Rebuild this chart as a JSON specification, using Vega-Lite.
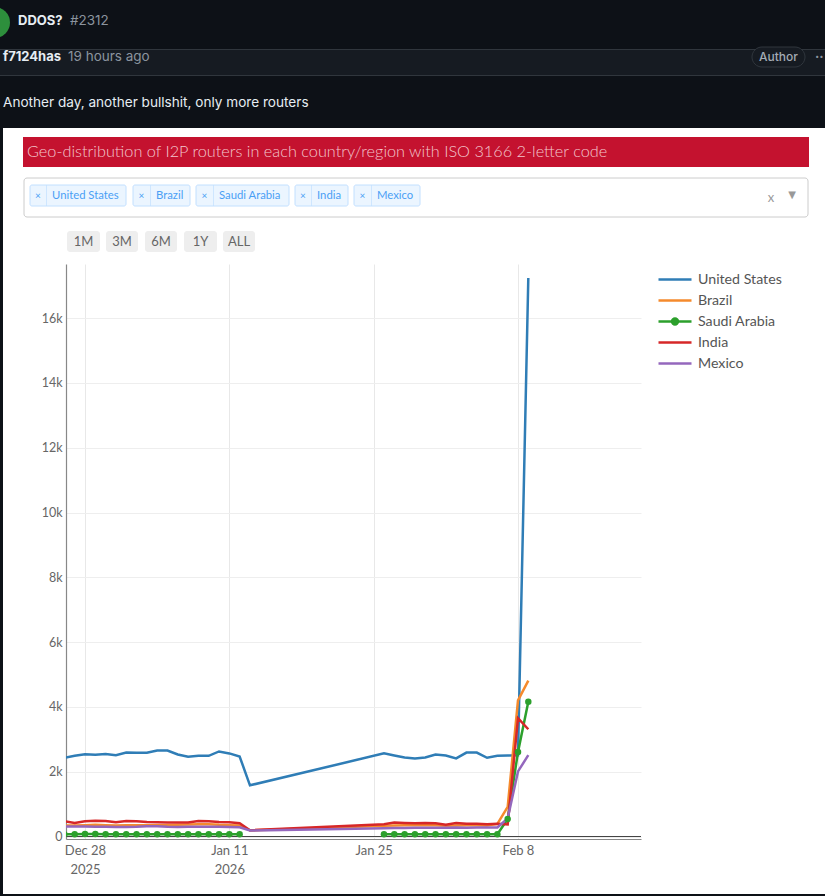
{"$schema":"https://vega.github.io/schema/vega-lite/v6.json","width":575,"height":575,"autosize":"none","padding":{"left":66,"top":264,"right":184,"bottom":57},"background":"#ffffff","view":{"stroke":null},"config":{"font":"Lato"},
"datasets":{
"routers":[
{"date":"2025-12-26","country":"United States","routers":2430},{"date":"2025-12-27","country":"United States","routers":2490},{"date":"2025-12-28","country":"United States","routers":2540},{"date":"2025-12-29","country":"United States","routers":2520},{"date":"2025-12-30","country":"United States","routers":2550},{"date":"2025-12-31","country":"United States","routers":2510},{"date":"2026-01-01","country":"United States","routers":2590},{"date":"2026-01-02","country":"United States","routers":2585},{"date":"2026-01-03","country":"United States","routers":2585},{"date":"2026-01-04","country":"United States","routers":2655},{"date":"2026-01-05","country":"United States","routers":2655},{"date":"2026-01-06","country":"United States","routers":2530},{"date":"2026-01-07","country":"United States","routers":2460},{"date":"2026-01-08","country":"United States","routers":2490},{"date":"2026-01-09","country":"United States","routers":2490},{"date":"2026-01-10","country":"United States","routers":2625},{"date":"2026-01-11","country":"United States","routers":2565},{"date":"2026-01-12","country":"United States","routers":2470},{"date":"2026-01-13","country":"United States","routers":1580},{"date":"2026-01-26","country":"United States","routers":2565},{"date":"2026-01-27","country":"United States","routers":2500},{"date":"2026-01-28","country":"United States","routers":2440},{"date":"2026-01-29","country":"United States","routers":2410},{"date":"2026-01-30","country":"United States","routers":2440},{"date":"2026-01-31","country":"United States","routers":2530},{"date":"2026-02-01","country":"United States","routers":2500},{"date":"2026-02-02","country":"United States","routers":2410},{"date":"2026-02-03","country":"United States","routers":2590},{"date":"2026-02-04","country":"United States","routers":2590},{"date":"2026-02-05","country":"United States","routers":2430},{"date":"2026-02-06","country":"United States","routers":2490},{"date":"2026-02-07","country":"United States","routers":2500},{"date":"2026-02-08","country":"United States","routers":2510},{"date":"2026-02-09","country":"United States","routers":17240},
{"date":"2025-12-26","country":"Brazil","routers":340},{"date":"2025-12-27","country":"Brazil","routers":340},{"date":"2025-12-28","country":"Brazil","routers":350},{"date":"2025-12-29","country":"Brazil","routers":365},{"date":"2025-12-30","country":"Brazil","routers":350},{"date":"2025-12-31","country":"Brazil","routers":340},{"date":"2026-01-01","country":"Brazil","routers":345},{"date":"2026-01-02","country":"Brazil","routers":350},{"date":"2026-01-03","country":"Brazil","routers":345},{"date":"2026-01-04","country":"Brazil","routers":345},{"date":"2026-01-05","country":"Brazil","routers":350},{"date":"2026-01-06","country":"Brazil","routers":360},{"date":"2026-01-07","country":"Brazil","routers":370},{"date":"2026-01-08","country":"Brazil","routers":375},{"date":"2026-01-09","country":"Brazil","routers":380},{"date":"2026-01-10","country":"Brazil","routers":360},{"date":"2026-01-11","country":"Brazil","routers":350},{"date":"2026-01-12","country":"Brazil","routers":340},{"date":"2026-01-13","country":"Brazil","routers":190},{"date":"2026-01-26","country":"Brazil","routers":330},{"date":"2026-01-27","country":"Brazil","routers":340},{"date":"2026-01-28","country":"Brazil","routers":345},{"date":"2026-01-29","country":"Brazil","routers":350},{"date":"2026-01-30","country":"Brazil","routers":345},{"date":"2026-01-31","country":"Brazil","routers":345},{"date":"2026-02-01","country":"Brazil","routers":335},{"date":"2026-02-02","country":"Brazil","routers":340},{"date":"2026-02-03","country":"Brazil","routers":345},{"date":"2026-02-04","country":"Brazil","routers":345},{"date":"2026-02-05","country":"Brazil","routers":340},{"date":"2026-02-06","country":"Brazil","routers":390},{"date":"2026-02-07","country":"Brazil","routers":915},{"date":"2026-02-08","country":"Brazil","routers":4200},{"date":"2026-02-09","country":"Brazil","routers":4810},
{"date":"2025-12-26","country":"Saudi Arabia","routers":70},{"date":"2025-12-27","country":"Saudi Arabia","routers":72},{"date":"2025-12-28","country":"Saudi Arabia","routers":75},{"date":"2025-12-29","country":"Saudi Arabia","routers":74},{"date":"2025-12-30","country":"Saudi Arabia","routers":72},{"date":"2025-12-31","country":"Saudi Arabia","routers":70},{"date":"2026-01-01","country":"Saudi Arabia","routers":72},{"date":"2026-01-02","country":"Saudi Arabia","routers":73},{"date":"2026-01-03","country":"Saudi Arabia","routers":72},{"date":"2026-01-04","country":"Saudi Arabia","routers":71},{"date":"2026-01-05","country":"Saudi Arabia","routers":72},{"date":"2026-01-06","country":"Saudi Arabia","routers":72},{"date":"2026-01-07","country":"Saudi Arabia","routers":71},{"date":"2026-01-08","country":"Saudi Arabia","routers":70},{"date":"2026-01-09","country":"Saudi Arabia","routers":70},{"date":"2026-01-10","country":"Saudi Arabia","routers":72},{"date":"2026-01-11","country":"Saudi Arabia","routers":71},{"date":"2026-01-12","country":"Saudi Arabia","routers":70},{"date":"2026-01-13","country":"Saudi Arabia","routers":null},{"date":"2026-01-26","country":"Saudi Arabia","routers":70},{"date":"2026-01-27","country":"Saudi Arabia","routers":72},{"date":"2026-01-28","country":"Saudi Arabia","routers":72},{"date":"2026-01-29","country":"Saudi Arabia","routers":71},{"date":"2026-01-30","country":"Saudi Arabia","routers":70},{"date":"2026-01-31","country":"Saudi Arabia","routers":72},{"date":"2026-02-01","country":"Saudi Arabia","routers":71},{"date":"2026-02-02","country":"Saudi Arabia","routers":70},{"date":"2026-02-03","country":"Saudi Arabia","routers":71},{"date":"2026-02-04","country":"Saudi Arabia","routers":70},{"date":"2026-02-05","country":"Saudi Arabia","routers":72},{"date":"2026-02-06","country":"Saudi Arabia","routers":72},{"date":"2026-02-07","country":"Saudi Arabia","routers":540},{"date":"2026-02-08","country":"Saudi Arabia","routers":2610},{"date":"2026-02-09","country":"Saudi Arabia","routers":4160},
{"date":"2025-12-26","country":"India","routers":470},{"date":"2025-12-27","country":"India","routers":420},{"date":"2025-12-28","country":"India","routers":470},{"date":"2025-12-29","country":"India","routers":490},{"date":"2025-12-30","country":"India","routers":480},{"date":"2025-12-31","country":"India","routers":440},{"date":"2026-01-01","country":"India","routers":480},{"date":"2026-01-02","country":"India","routers":470},{"date":"2026-01-03","country":"India","routers":450},{"date":"2026-01-04","country":"India","routers":440},{"date":"2026-01-05","country":"India","routers":430},{"date":"2026-01-06","country":"India","routers":430},{"date":"2026-01-07","country":"India","routers":430},{"date":"2026-01-08","country":"India","routers":480},{"date":"2026-01-09","country":"India","routers":470},{"date":"2026-01-10","country":"India","routers":450},{"date":"2026-01-11","country":"India","routers":440},{"date":"2026-01-12","country":"India","routers":410},{"date":"2026-01-13","country":"India","routers":195},{"date":"2026-01-26","country":"India","routers":380},{"date":"2026-01-27","country":"India","routers":430},{"date":"2026-01-28","country":"India","routers":420},{"date":"2026-01-29","country":"India","routers":410},{"date":"2026-01-30","country":"India","routers":420},{"date":"2026-01-31","country":"India","routers":410},{"date":"2026-02-01","country":"India","routers":360},{"date":"2026-02-02","country":"India","routers":420},{"date":"2026-02-03","country":"India","routers":390},{"date":"2026-02-04","country":"India","routers":390},{"date":"2026-02-05","country":"India","routers":380},{"date":"2026-02-06","country":"India","routers":390},{"date":"2026-02-07","country":"India","routers":370},{"date":"2026-02-08","country":"India","routers":3650},{"date":"2026-02-09","country":"India","routers":3310},
{"date":"2025-12-26","country":"Mexico","routers":310},{"date":"2025-12-27","country":"Mexico","routers":305},{"date":"2025-12-28","country":"Mexico","routers":305},{"date":"2025-12-29","country":"Mexico","routers":300},{"date":"2025-12-30","country":"Mexico","routers":300},{"date":"2025-12-31","country":"Mexico","routers":295},{"date":"2026-01-01","country":"Mexico","routers":295},{"date":"2026-01-02","country":"Mexico","routers":300},{"date":"2026-01-03","country":"Mexico","routers":315},{"date":"2026-01-04","country":"Mexico","routers":315},{"date":"2026-01-05","country":"Mexico","routers":300},{"date":"2026-01-06","country":"Mexico","routers":295},{"date":"2026-01-07","country":"Mexico","routers":300},{"date":"2026-01-08","country":"Mexico","routers":300},{"date":"2026-01-09","country":"Mexico","routers":300},{"date":"2026-01-10","country":"Mexico","routers":300},{"date":"2026-01-11","country":"Mexico","routers":295},{"date":"2026-01-12","country":"Mexico","routers":285},{"date":"2026-01-13","country":"Mexico","routers":185},{"date":"2026-01-26","country":"Mexico","routers":255},{"date":"2026-01-27","country":"Mexico","routers":265},{"date":"2026-01-28","country":"Mexico","routers":265},{"date":"2026-01-29","country":"Mexico","routers":270},{"date":"2026-01-30","country":"Mexico","routers":270},{"date":"2026-01-31","country":"Mexico","routers":270},{"date":"2026-02-01","country":"Mexico","routers":270},{"date":"2026-02-02","country":"Mexico","routers":275},{"date":"2026-02-03","country":"Mexico","routers":270},{"date":"2026-02-04","country":"Mexico","routers":275},{"date":"2026-02-05","country":"Mexico","routers":275},{"date":"2026-02-06","country":"Mexico","routers":280},{"date":"2026-02-07","country":"Mexico","routers":560},{"date":"2026-02-08","country":"Mexico","routers":2010},{"date":"2026-02-09","country":"Mexico","routers":2510}
]},
"resolve":{"scale":{"x":"independent","y":"independent"},"axis":{"x":"independent","y":"independent"}},
"layer":[
{"encoding":{"x":{"field":"left","type":"quantitative","axis":null,"scale":{"domain":[0,825],"range":[-66,759],"nice":false,"zero":false}},"y":{"field":"top","type":"quantitative","axis":null,"scale":{"domain":[0,896],"range":[-264,632],"nice":false,"zero":false}},"x2":{"field":"right"},"y2":{"field":"bottom"}},
"layer":[
{"data":{"values":[{"left":0,"right":825,"top":0,"bottom":128},{"left":0,"right":3,"top":128,"bottom":896},{"left":0,"right":825,"top":894,"bottom":896}]},"mark":{"type":"rect","fill":"#0d1117"}},
{"data":{"values":[{"left":0,"right":825,"top":50,"bottom":75}]},"mark":{"type":"rect","fill":"#161b22"}},
{"data":{"values":[{"left":0,"right":825,"top":49,"bottom":50},{"left":0,"right":825,"top":75,"bottom":76}]},"mark":{"type":"rect","fill":"#30363d"}},
{"data":{"values":[{"left":752,"right":805,"top":47,"bottom":67}]},"mark":{"type":"rect","fill":"#161b22","stroke":"#30363d","cornerRadius":10}},
{"data":{"values":[{"left":23,"right":809,"top":137,"bottom":167}]},"mark":{"type":"rect","fill":"#c4122f"}},
{"data":{"values":[{"left":24,"right":808,"top":178,"bottom":217}]},"mark":{"type":"rect","fill":"#ffffff","stroke":"#cccccc","cornerRadius":3}},
{"data":{"values":[{"left":30,"right":126,"top":185,"bottom":206},{"left":133,"right":190,"top":185,"bottom":206},{"left":196,"right":289,"top":185,"bottom":206},{"left":295,"right":348,"top":185,"bottom":206},{"left":354,"right":420,"top":185,"bottom":206}]},"mark":{"type":"rect","fill":"#ebf5ff","stroke":"#c2e0ff","cornerRadius":2}},
{"data":{"values":[{"left":46,"right":46.7,"top":185,"bottom":206},{"left":150,"right":150.7,"top":185,"bottom":206},{"left":213,"right":213.7,"top":185,"bottom":206},{"left":311,"right":311.7,"top":185,"bottom":206},{"left":371,"right":371.7,"top":185,"bottom":206}]},"mark":{"type":"rect","fill":"#c2e0ff"}},
{"data":{"values":[{"left":67,"right":100,"top":231,"bottom":252},{"left":106,"right":138,"top":231,"bottom":252},{"left":145,"right":177,"top":231,"bottom":252},{"left":184,"right":217,"top":231,"bottom":252},{"left":223,"right":255,"top":231,"bottom":252}]},"mark":{"type":"rect","fill":"#eeeeee","cornerRadius":3}},
{"data":{"values":[{"left":-5.5,"top":22.5}]},"mark":{"type":"point","filled":true,"fill":"#2d8f3c","opacity":1,"size":961},"encoding":{"x2":null,"y2":null}},
{"data":{"values":[{"left":18,"top":21,"label":"DDOS?"},{"left":3,"top":57,"label":"f7124has"}]},"mark":{"type":"text","font":"Inter","fontSize":13,"fontWeight":"bold","fill":"#e6edf3","align":"left","baseline":"middle"},"encoding":{"x2":null,"y2":null,"text":{"field":"label"}}},
{"data":{"values":[{"left":70,"top":21,"label":"#2312"},{"left":68,"top":57,"label":"19 hours ago"}]},"mark":{"type":"text","font":"Inter","fontSize":13.5,"fill":"#8b949e","align":"left","baseline":"middle"},"encoding":{"x2":null,"y2":null,"text":{"field":"label"}}},
{"data":{"values":[{"left":759,"top":57,"label":"Author"}]},"mark":{"type":"text","font":"Inter","fontSize":12,"fontWeight":500,"fill":"#a3acb5","align":"left","baseline":"middle"},"encoding":{"x2":null,"y2":null,"text":{"field":"label"}}},
{"data":{"values":[{"left":815,"top":57,"label":"··"}]},"mark":{"type":"text","font":"Inter","fontSize":13,"fontWeight":"bold","fill":"#8b949e","align":"left","baseline":"middle"},"encoding":{"x2":null,"y2":null,"text":{"field":"label"}}},
{"data":{"values":[{"left":3,"top":103,"label":"Another day, another bullshit, only more routers"}]},"mark":{"type":"text","font":"Inter","fontSize":13.6,"fill":"#e6edf3","align":"left","baseline":"middle"},"encoding":{"x2":null,"y2":null,"text":{"field":"label"}}},
{"data":{"values":[{"left":27,"top":152,"label":"Geo-distribution of I2P routers in each country/region with ISO 3166 2-letter code"}]},"mark":{"type":"text","font":"Lato","fontSize":16.3,"fontWeight":300,"fill":"#f3c6cd","align":"left","baseline":"middle"},"encoding":{"x2":null,"y2":null,"text":{"field":"label"}}},
{"data":{"values":[{"left":52,"top":195.5,"label":"United States"},{"left":156,"top":195.5,"label":"Brazil"},{"left":219,"top":195.5,"label":"Saudi Arabia"},{"left":317,"top":195.5,"label":"India"},{"left":377,"top":195.5,"label":"Mexico"}]},"mark":{"type":"text","font":"Lato","fontSize":11.3,"fill":"#4a9ff5","align":"left","baseline":"middle"},"encoding":{"x2":null,"y2":null,"text":{"field":"label"}}},
{"data":{"values":[{"left":38,"top":195.5,"label":"×"},{"left":141.5,"top":195.5,"label":"×"},{"left":204.5,"top":195.5,"label":"×"},{"left":303,"top":195.5,"label":"×"},{"left":362.5,"top":195.5,"label":"×"}]},"mark":{"type":"text","font":"Lato","fontSize":10,"fill":"#4a9ff5","align":"center","baseline":"middle"},"encoding":{"x2":null,"y2":null,"text":{"field":"label"}}},
{"data":{"values":[{"left":771,"top":198,"label":"x"}]},"mark":{"type":"text","font":"Lato","fontSize":13,"fill":"#999999","align":"center","baseline":"middle"},"encoding":{"x2":null,"y2":null,"text":{"field":"label"}}},
{"data":{"values":[{"left":792,"top":195,"label":"▼"}]},"mark":{"type":"text","font":"DejaVu Sans","fontSize":10,"fill":"#999999","align":"center","baseline":"middle"},"encoding":{"x2":null,"y2":null,"text":{"field":"label"}}},
{"data":{"values":[{"left":83.5,"top":241.5,"label":"1M"},{"left":122,"top":241.5,"label":"3M"},{"left":161,"top":241.5,"label":"6M"},{"left":200.5,"top":241.5,"label":"1Y"},{"left":239,"top":241.5,"label":"ALL"}]},"mark":{"type":"text","font":"Lato","fontSize":13,"fill":"#666666","align":"center","baseline":"middle"},"encoding":{"x2":null,"y2":null,"text":{"field":"label"}}}
]},
{"data":{"name":"routers"},
"layer":[
{"mark":{"type":"rule","color":"#444444","strokeWidth":1},"encoding":{"y":{"datum":0,"type":"quantitative","scale":{"domain":[-77,17670],"nice":false,"zero":false}}}},
{"mark":{"type":"line","strokeWidth":2.5,"clip":true,"interpolate":"linear"},"encoding":{
"x":{"field":"date","type":"temporal","title":null,"scale":{"type":"utc","domain":[{"year":2025,"month":12,"date":26,"hours":3,"minutes":46,"utc":true},{"year":2026,"month":2,"date":19,"hours":22,"minutes":20,"utc":true}],"nice":false},"axis":{"values":[{"year":2025,"month":12,"date":28,"utc":true},{"year":2026,"month":1,"date":11,"utc":true},{"year":2026,"month":1,"date":25,"utc":true},{"year":2026,"month":2,"date":8,"utc":true}],"labelExpr":"utcFormat(datum.value,'%b %-d')=='Dec 28'?['Dec 28','2025']:utcFormat(datum.value,'%b %-d')=='Jan 11'?['Jan 11','2026']:utcFormat(datum.value,'%b %-d')","labelLineHeight":19,"labelFontSize":13,"labelFont":"Lato","labelColor":"#666666","labelPadding":5,"ticks":false,"grid":true,"gridColor":"#e8e8e8","gridWidth":1,"domainColor":"#888888","domainWidth":1.2,"labelBaseline":"top"}},
"y":{"field":"routers","type":"quantitative","title":null,"scale":{"domain":[-77,17670],"nice":false,"zero":false},"axis":{"values":[0,2000,4000,6000,8000,10000,12000,14000,16000],"labelExpr":"datum.value==0?'0':(datum.value/1000)+'k'","labelFontSize":12.5,"labelFont":"Lato","labelColor":"#666666","labelPadding":4,"ticks":false,"grid":true,"gridColor":"#eeeeee","gridWidth":1,"domainColor":"#888888","domainWidth":1.2}},
"color":{"field":"country","type":"nominal","scale":{"domain":["United States","Brazil","Saudi Arabia","India","Mexico"],"range":["#2f7db6","#f58a2c","#2ca02c","#d62728","#9467bd"]},"legend":{"title":null,"orient":"none","legendX":591,"legendY":5,"labelFont":"Lato","labelFontSize":14.2,"labelColor":"#555555","labelOffset":5,"symbolType":"stroke","symbolSize":1089,"symbolStrokeWidth":2.5,"clipHeight":21,"rowPadding":0,"encode":{"symbols":{"update":{"shape":{"signal":"datum.value==='Saudi Arabia'?'M-1,0H1M0.18,0A0.18,0.18 0 1 0 -0.18,0A0.18,0.18 0 1 0 0.18,0Z':'M-1,0H1'"},"fill":{"signal":"datum.value==='Saudi Arabia'?'#2ca02c':'transparent'"}}}}}}
}},
{"transform":[{"filter":"datum.country==='Saudi Arabia'"}],"mark":{"type":"point","filled":true,"fill":"#2ca02c","opacity":1,"size":42,"clip":true},"encoding":{"x":{"field":"date","type":"temporal"},"y":{"field":"routers","type":"quantitative"}}}
]}
]}
